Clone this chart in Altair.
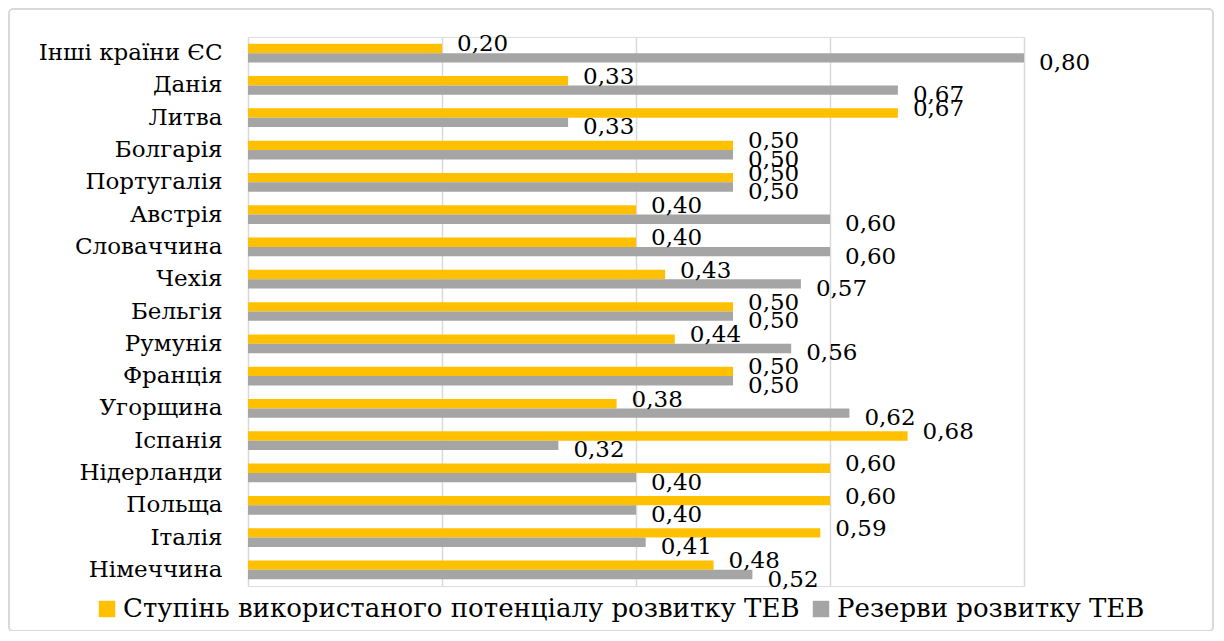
import altair as alt
import pandas as pd

countries = ["Інші країни ЄС", "Данія", "Литва", "Болгарія", "Португалія", "Австрія",
             "Словаччина", "Чехія", "Бельгія", "Румунія", "Франція", "Угорщина",
             "Іспанія", "Нідерланди", "Польща", "Італія\u00a0", "Німеччина"]
used = [0.20, 0.33, 0.67, 0.50, 0.50, 0.40, 0.40, 0.43, 0.50, 0.44, 0.50, 0.38,
        0.68, 0.60, 0.60, 0.59, 0.48]
reserve = [0.80, 0.67, 0.33, 0.50, 0.50, 0.60, 0.60, 0.57, 0.50, 0.56, 0.50, 0.62,
           0.32, 0.40, 0.40, 0.41, 0.52]
series = ["Ступінь використаного потенціалу розвитку ТЕВ", "Резерви розвитку ТЕВ"]
colors = ["#FFC000", "#A5A5A5"]
x_ticks = [0, 0.2, 0.4, 0.6, 0.8]

rows = []
for c, u, r in zip(countries, used, reserve):
    rows.append({"country": c, "series": series[0], "value": u})
    rows.append({"country": c, "series": series[1], "value": r})
df = pd.DataFrame(rows)

FONT = "DejaVu Serif"

y_enc = alt.Y("country:N", sort=countries,
              scale=alt.Scale(paddingInner=0.42, paddingOuter=0.21),
              axis=alt.Axis(title=None, domain=False, ticks=False, labelPadding=26,
                            labelFont=FONT, labelFontSize=23, labelColor="#000000",
                            labelLimit=400))
x_enc = alt.X("value:Q", scale=alt.Scale(domain=[0, 0.8], nice=False),
              axis=alt.Axis(title=None, values=x_ticks, labels=False, ticks=False,
                            domain=False, grid=True, gridColor="#D9D9D9", gridWidth=1.5))
yoff = alt.YOffset("series:N", sort=series, scale=alt.Scale(paddingInner=0, paddingOuter=0))

base = alt.Chart(df)

bars = base.mark_bar().encode(
    y=y_enc, x=x_enc, yOffset=yoff,
    color=alt.Color("series:N", sort=series,
                    scale=alt.Scale(domain=series, range=colors),
                    legend=alt.Legend(title=None, orient="none", direction="horizontal",
                                      legendX=-154, legendY=559, symbolType="square",
                                      symbolSize=270, symbolStrokeWidth=0,
                                      labelFont=FONT, labelFontSize=26, labelOffset=3,
                                      labelColor="#000000", labelLimit=1000,
                                      columnPadding=8, symbolOffset=0))
)

label_expr = "replace(format(datum.value, '.2f'), '.', ',')"

text_used = base.transform_filter(
    alt.datum.series == series[0]
).transform_calculate(lab=label_expr).mark_text(
    align="left", baseline="middle", dx=15, dy=-4, font=FONT, fontSize=23, color="#000000"
).encode(y=alt.Y("country:N", sort=countries), x="value:Q", yOffset=yoff, text="lab:N")

text_res = base.transform_filter(
    alt.datum.series == series[1]
).transform_calculate(lab=label_expr).mark_text(
    align="left", baseline="middle", dx=15, dy=5, font=FONT, fontSize=23, color="#000000"
).encode(y=alt.Y("country:N", sort=countries), x="value:Q", yOffset=yoff, text="lab:N")

frame = alt.Chart(alt.Data(values=[{"f": 1}])).mark_rect(
    fill="transparent", stroke="#D9D9D9", strokeWidth=2, cornerRadius=4
).encode(x=alt.value(-239), x2=alt.value(965), y=alt.value(-28), y2=alt.value(594))

chart = alt.layer(frame, bars, text_used, text_res).properties(
    width=776, height=549,
    padding={"left": 240, "top": 29, "right": 190, "bottom": 45},
    autosize=alt.AutoSizeParams(type="none"),
).configure_view(stroke=None).configure(background="white")

chart.save("out.html", embed_options={"renderer": "svg", "actions": False})
